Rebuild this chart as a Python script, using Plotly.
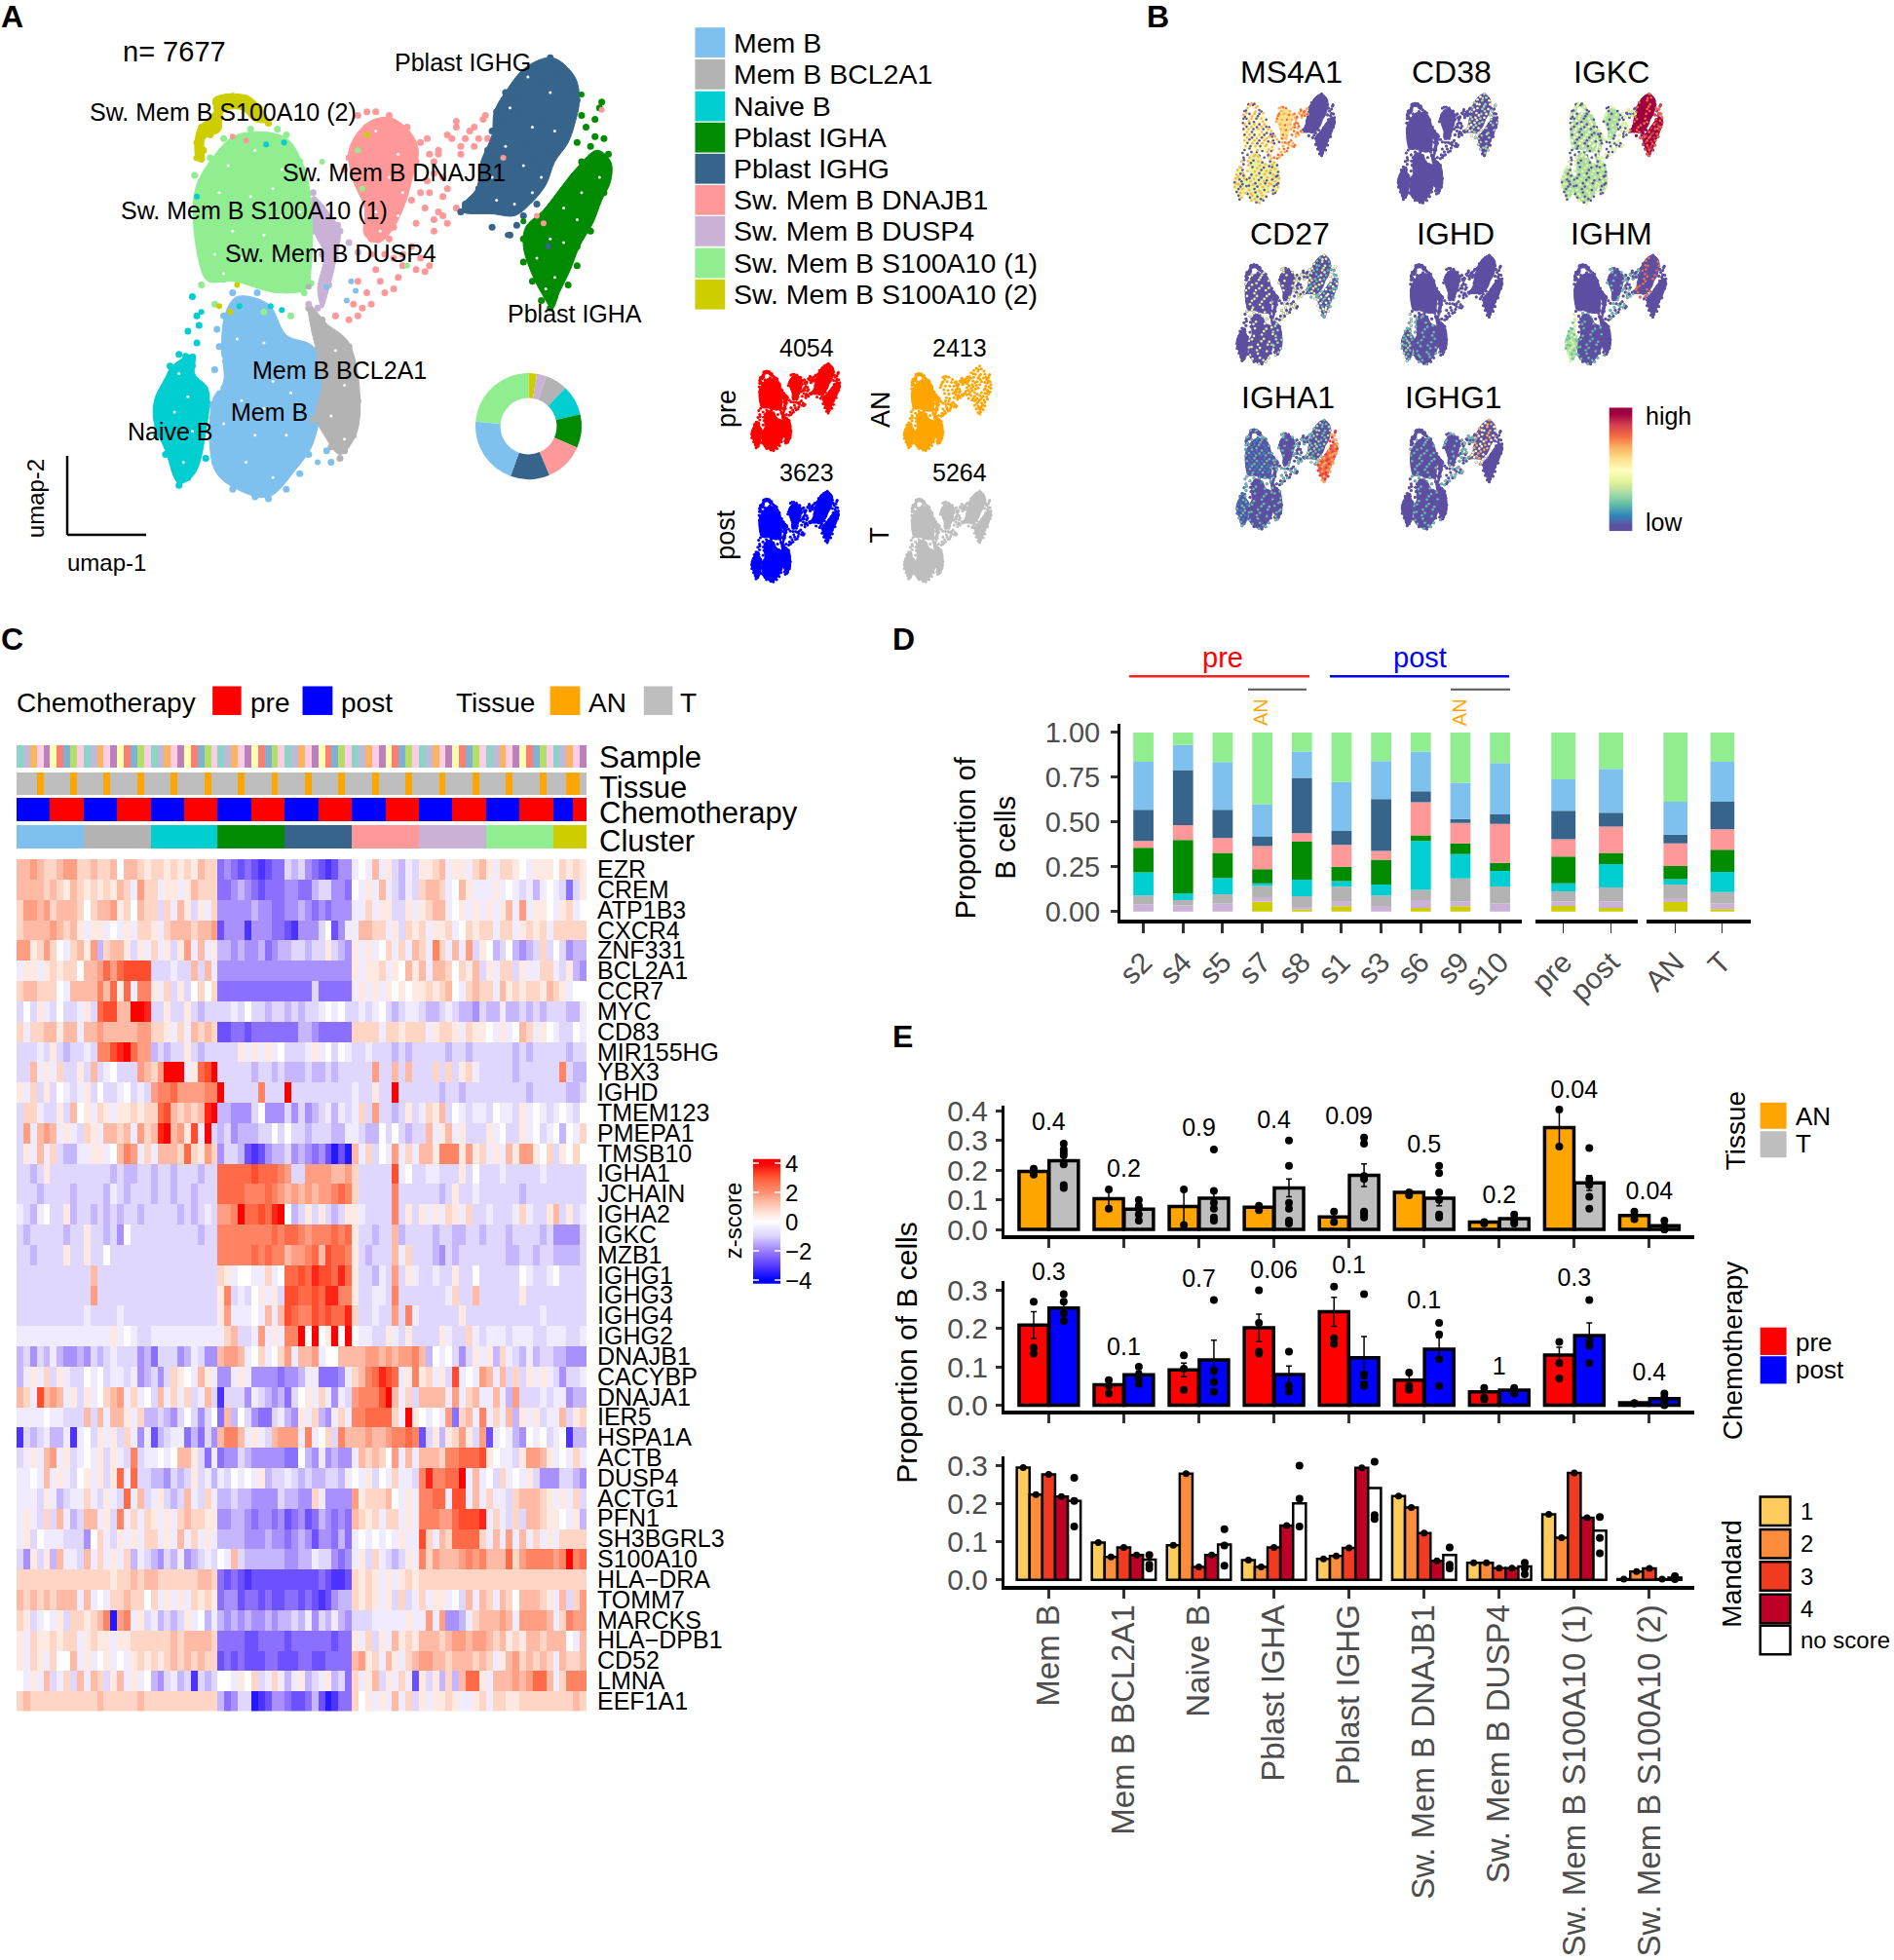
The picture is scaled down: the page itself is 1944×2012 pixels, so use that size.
import plotly.graph_objects as go

W, H = 1944, 2012
V = W / 1515
FONT = "Liberation Sans"
GRAY = "#4D4D4D"

# ---------------------------------------------------------------- clusters
clusters = ["Mem B", "Mem B BCL2A1", "Naive B", "Pblast IGHA", "Pblast IGHG", "Sw. Mem B DNAJB1",
            "Sw. Mem B DUSP4", "Sw. Mem B S100A10 (1)", "Sw. Mem B S100A10 (2)"]
cluster_colors = ["#7EC0EE", "#B3B3B3", "#00CED1", "#008B00", "#36648B", "#FF9999", "#CAB2D6", "#90EE90", "#CDCD00"]

# UMAP outlines and points
out_memb = [(5.3,7.7),(6.0,7.9),(6.4,8.7),(7.0,9.0),(7.2,10.0),(7.0,11.5),(6.6,12.2),(6.0,12.9),(5.3,12.7),(4.8,12.2),(4.75,10.4),(5.0,9.9),(4.95,9.0),(5.05,8.1)]
out_gray = [(6.9,7.9),(7.3,8.4),(7.8,8.9),(8.05,10.4),(7.95,11.3),(7.6,11.8),(7.25,11.3),(7.05,10.8),(7.2,10.0),(7.05,9.0),(6.95,8.5)]
out_naive = [(3.85,9.5),(4.35,9.2),(4.35,9.7),(4.65,10.1),(4.6,11.2),(4.35,12.3),(4.0,12.55),(3.7,11.7),(3.45,11.0),(3.45,10.4),(3.7,9.8)]
out_igha = [(13.35,3.9),(13.65,4.2),(13.65,4.7),(13.45,5.2),(13.25,5.8),(12.95,6.4),(12.75,7.0),(12.5,7.6),(12.35,8.0),(12.1,7.6),(11.85,7.0),(11.7,6.4),(11.75,5.9),(12.15,5.45),(12.55,4.85),(12.9,4.35)]
out_ighg = [(12.35,1.5),(12.85,2.0),(12.95,2.6),(12.85,3.2),(12.7,3.7),(12.4,4.2),(12.2,4.8),(11.85,5.3),(11.5,5.6),(11.0,5.55),(10.8,5.55),(10.35,5.5),(10.35,5.3),(10.65,4.9),(10.75,4.2),(11.0,3.5),(11.05,2.9),(11.35,2.3),(11.75,1.75)]
out_pink = [(8.7,3.05),(9.15,3.4),(9.35,3.9),(9.2,4.7),(9.05,5.3),(8.75,6.0),(8.45,6.3),(8.15,6.1),(8.15,5.4),(7.9,4.7),(7.8,3.9),(8.2,3.2)]
out_dusp = [(7.0,5.1),(7.4,5.6),(7.6,6.0),(7.5,6.8),(7.35,7.5),(7.2,8.0),(7.1,7.5),(7.25,6.6),(7.05,6.1),(6.95,5.6)]
out_s1 = [(5.3,3.5),(6.35,3.55),(6.75,4.2),(6.95,5.2),(6.95,7.0),(6.85,7.5),(6.2,7.6),(5.2,7.3),(4.65,7.3),(4.45,6.8),(4.35,5.0),(4.75,4.1)]
out_s2 = [(4.4,4.15),(4.42,3.35),(4.78,2.95),(4.78,2.55),(5.55,2.5),(6.0,3.15),(5.7,3.15),(5.4,2.85),(5.0,2.9),(4.92,3.4),(4.58,3.6),(4.55,4.2)]
outlines = [out_memb, out_gray, out_naive, out_igha, out_ighg, out_pink, out_dusp, out_s1, out_s2]

pts_memb = [(5.2,7.6),(5.6,7.9),(6.0,8.0),(5.0,8.2),(5.4,8.5),(5.9,8.6),(6.3,8.7),(6.6,8.9),(7.0,9.1),(4.9,9.0),(5.3,9.2),(5.8,9.3),(6.2,9.5),(6.7,9.6),(7.1,9.8),(4.8,9.6),(5.2,10.0),(5.7,10.1),(6.2,10.3),(6.8,10.3),(4.7,10.5),(5.1,10.7),(5.6,10.9),(6.1,11.0),(6.6,10.9),(6.9,11.2),(4.7,11.2),(5.0,11.6),(5.5,11.5),(6.0,11.7),(6.5,11.6),(6.9,11.8),(4.8,12.0),(5.3,12.2),(5.8,12.3),(6.3,12.2),(6.7,12.3),(5.2,12.7),(5.7,12.9),(6.0,12.95),(6.4,12.7),(7.3,11.7),(7.4,12.0),
            (5.45,8.05),(5.15,8.75),(6.05,9.05),(6.45,9.25),(5.55,9.65),(6.0,9.85),(6.55,9.95),(5.0,10.35),(5.45,10.45),(5.95,10.55),(6.45,10.65),(4.95,11.15),(5.35,11.05),(5.8,11.25),(6.35,11.3),(6.75,10.6),(5.15,12.0),(5.6,11.85),(6.2,11.9),(5.05,12.4),(5.55,12.55),(6.15,12.55),(4.85,8.55),(5.75,7.6)]
pts_gray = [(6.9,8.0),(7.2,8.3),(7.1,8.6),(7.5,8.7),(7.8,9.0),(7.6,9.4),(7.9,9.7),(7.4,10.0),(7.7,10.2),(8.0,10.4),(7.3,10.5),(7.6,10.7),(7.9,10.9),(7.2,11.0),(7.5,11.2),(7.9,11.3),(7.4,11.6),(7.7,11.7),(7.6,11.9),(7.0,10.9),(7.3,9.2),(7.15,9.55),(7.85,10.1),(7.45,10.35),(7.75,11.05),(7.35,8.95)]
pts_naive = [(4.4,8.2),(4.2,8.6),(4.4,8.9),(4.0,9.2),(4.3,9.5),(3.8,9.5),(4.1,9.9),(3.7,10.0),(4.4,10.1),(3.6,10.4),(4.0,10.5),(4.5,10.4),(3.5,10.8),(3.9,11.0),(4.3,11.0),(3.5,11.3),(3.9,11.5),(4.3,11.5),(3.7,11.8),(4.1,11.9),(3.9,12.2),(4.2,12.4),(4.0,12.6),(4.6,11.9),(4.3,7.7),(3.85,10.25),(4.2,10.7),(3.65,10.95),(4.1,11.25),(4.35,9.85),(4.45,8.45),(4.15,9.25)]
pts_igha = [(13.4,2.8),(13.3,3.1),(13.1,3.3),(13.5,3.6),(13.2,3.8),(13.6,4.0),(13.0,4.2),(13.4,4.3),(13.6,4.5),(12.8,4.7),(13.2,4.8),(13.5,5.0),(12.5,5.1),(12.9,5.2),(13.3,5.3),(12.3,5.5),(12.7,5.6),(13.1,5.7),(12.0,5.9),(12.4,6.0),(12.8,6.1),(13.2,6.0),(11.7,6.2),(12.1,6.4),(12.5,6.5),(12.9,6.4),(11.7,6.8),(12.1,6.9),(12.5,7.0),(12.9,6.9),(11.9,7.3),(12.3,7.4),(12.7,7.4),(12.1,7.8),(12.4,7.7),(12.3,8.0),(13.45,2.65),(13.0,3.0),(12.9,3.7),(13.3,3.55),(12.95,4.55),(13.15,5.15),(12.55,5.75),(12.25,6.15),(11.95,6.55),(12.65,6.75),(12.2,7.15),(11.85,6.0),(12.45,7.25),(13.35,4.95)]
pts_ighg = [(12.3,1.5),(11.9,1.8),(12.5,1.9),(11.6,2.1),(12.1,2.2),(12.8,2.2),(11.3,2.4),(11.8,2.6),(12.4,2.6),(12.9,2.6),(11.1,2.9),(11.6,3.0),(12.1,3.1),(12.7,3.1),(11.0,3.4),(11.5,3.5),(12.0,3.6),(12.5,3.6),(10.9,3.9),(11.4,4.0),(11.9,4.1),(12.3,4.0),(10.8,4.4),(11.3,4.5),(11.8,4.6),(10.7,4.9),(11.2,5.0),(11.7,5.1),(10.4,5.3),(10.8,5.4),(11.3,5.5),(11.7,5.6),(10.3,5.5),(11.0,5.9),(11.4,6.1),(12.0,5.3),(12.15,1.95),(11.55,2.55),(12.25,2.85),(11.25,3.15),(12.35,3.3),(11.75,3.75),(11.05,4.15),(11.55,4.25),(12.1,4.45),(10.95,4.75),(11.45,4.8),(10.6,5.15),(11.05,5.3),(11.55,5.85)]
pts_pink = [(8.2,2.9),(8.7,3.0),(9.1,3.3),(8.0,3.6),(8.5,3.6),(9.0,3.7),(9.4,3.7),(7.8,4.1),(8.3,4.2),(8.8,4.2),(9.3,4.2),(9.8,4.0),(8.1,4.7),(8.6,4.8),(9.1,4.7),(9.7,4.5),(10.1,3.6),(10.5,3.4),(10.8,3.1),(10.9,3.6),(10.3,4.0),(10.6,3.8),(8.2,5.2),(8.7,5.3),(9.2,5.2),(9.6,5.0),(9.8,5.5),(8.4,5.8),(8.8,5.9),(9.3,5.8),(9.7,5.7),(8.3,6.2),(8.7,6.2),(9.6,6.9),(9.3,7.0),(8.5,7.3),(8.2,7.6),(7.9,7.9),(8.0,8.2),(7.5,8.2),(8.8,6.7),(9.0,6.6),(9.9,5.1),(10.2,5.4),
            (10.0,3.5),(10.2,3.3),(10.4,3.6),(10.6,3.3),(10.7,3.6),(10.3,3.8),(9.7,4.2),(9.9,4.6),(9.6,4.0),(9.9,5.6),(10.0,5.8),(9.5,5.4),(9.7,6.0),(9.2,6.4),(9.0,6.9),(8.9,7.2),(8.6,7.6),(8.3,7.9),(8.1,8.0),(9.5,7.05),(9.4,6.7),(8.8,7.5),(8.4,7.0),(8.6,6.6),(8.0,7.3),(7.8,8.3),(8.3,6.6),(9.8,3.9),(8.0,3.0),(8.4,2.9),(8.2,3.3),(7.9,3.8),(7.7,4.4),(10.0,4.9),(10.3,5.5),(9.55,4.7),(9.4,5.0),(10.2,3.15),(10.85,3.0),(9.55,3.6)]
pts_dusp = [(7.0,5.0),(7.2,5.4),(7.4,5.7),(7.0,6.0),(7.3,6.0),(7.6,6.0),(7.4,6.4),(7.2,6.6),(7.5,6.7),(7.3,7.1),(7.2,7.5),(7.1,8.0),(6.9,7.9),(7.8,6.3),(8.0,6.55),(7.55,5.85),(7.15,5.75),(7.35,7.4)]
pts_s1 = [(5.0,3.6),(5.5,3.6),(6.0,3.6),(6.4,3.5),(4.7,4.1),(5.2,4.1),(5.7,4.1),(6.2,4.1),(6.7,4.2),(4.5,4.7),(5.0,4.6),(5.5,4.7),(6.0,4.7),(6.5,4.7),(4.4,5.2),(4.9,5.2),(5.4,5.2),(5.9,5.2),(6.4,5.2),(6.9,5.2),(4.5,5.8),(5.0,5.8),(5.5,5.8),(6.0,5.8),(6.5,5.8),(4.5,6.4),(5.0,6.3),(5.5,6.4),(6.0,6.4),(6.5,6.4),(6.9,6.5),(4.6,7.0),(5.1,7.0),(5.6,7.0),(6.1,7.0),(6.6,7.0),(4.5,7.4),(5.8,7.4),(6.3,7.5),(6.8,7.6),(4.8,7.9),(5.9,8.1),(6.5,8.2),
          (5.25,3.85),(5.85,3.85),(4.95,4.35),(5.45,4.45),(6.35,4.4),(4.7,4.95),(5.2,4.95),(5.75,5.0),(6.2,4.95),(6.7,4.95),(4.75,5.5),(5.25,5.5),(6.25,5.5),(6.75,5.6),(4.75,6.1),(5.25,6.1),(5.75,6.15),(6.25,6.1),(6.7,6.2),(4.8,6.65),(5.3,6.7),(5.8,6.7),(6.3,6.7),(5.0,7.25),(6.75,6.85),(6.2,3.35),(5.6,3.35),(4.35,4.55),(6.95,7.35)]
pts_s2 = [(4.4,4.1),(4.4,3.7),(4.5,3.3),(4.8,3.0),(4.9,2.6),(5.2,2.5),(5.5,2.55),(5.8,2.8),(6.0,3.2),(4.7,3.5),(4.55,3.9),(5.05,2.7),(5.35,2.65),(5.65,2.95),(4.65,3.25)]
points = [pts_memb, pts_gray, pts_naive, pts_igha, pts_ighg, pts_pink, pts_dusp, pts_s1, pts_s2]

# cells of other clusters lying among each cloud: (x, y, cluster)
stray_cells = [(7.85,7.3,0),(7.95,7.55,0),(7.3,7.45,0),(7.1,12.0,0),(7.75,7.8,0),(8.1,4.9,7),(7.2,4.2,7),(8.0,3.9,7),(8.2,3.5,8),(6.35,3.7,2),(5.95,3.75,2),
               (6.05,7.95,2),(5.35,7.95,2),(4.5,8.1,2),(6.3,8.05,2),(5.2,3.55,5),(5.5,3.65,5),(9.1,6.9,7),(5.3,7.4,8),(5.15,8.1,8),(4.9,7.95,8),(13.45,2.85,5),(12.15,5.8,5),
               (11.25,4.1,5),(6.9,7.45,1),(5.7,2.9,8),(4.4,5.1,2),(11.7,5.75,3),(13.0,2.45,3),(12.25,6.4,4),(11.35,6.1,4),(12.0,5.6,5)]
# little holes of the point clouds
gaps = [(5.1,4.3),(5.7,3.9),(6.3,4.4),(4.9,5.0),(5.6,5.1),(6.1,4.9),(4.7,5.6),(5.2,6.0),(5.9,6.1),(6.3,5.6),(4.8,6.6),(5.4,6.7),(6.2,6.7),(6.7,5.5),(5.0,7.1),
        (5.3,8.8),(5.9,8.9),(6.1,9.9),(5.4,10.4),(5.9,10.6),(6.5,10.2),(5.0,11.0),(5.7,11.3),(6.4,11.3),(5.5,12.0),(6.1,12.4),(4.9,10.1),(4.95,9.3),
        (4.0,9.7),(4.2,10.3),(3.9,10.7),(4.3,11.2),(3.8,11.4),(4.1,12.0),(7.5,9.1),(7.7,10.0),(7.4,10.8),(7.7,11.4),
        (11.8,2.0),(12.3,2.4),(11.4,2.8),(11.9,3.3),(12.4,3.4),(11.3,3.8),(11.7,4.3),(12.1,4.6),(11.0,4.6),(11.5,5.3),(11.9,5.0),(11.1,5.2),
        (13.4,4.6),(13.0,5.0),(12.6,5.4),(12.3,6.2),(12.9,5.7),(12.6,6.3),(12.0,6.7),(12.4,7.2),(12.2,7.5),
        (8.4,3.4),(8.9,4.0),(8.2,4.4),(8.7,4.6),(9.0,5.0),(8.4,5.5),(8.9,5.6),(8.5,6.0)]

donut_values = [2.5, 3.0, 6.7, 9.2, 10.2, 12.0, 11.9, 20.9, 23.6]
donut_order = [8, 6, 1, 2, 3, 5, 4, 0, 7]

condition_panels = [("pre", "4054", "#FF0000"), ("AN", "2413", "#FFA500"), ("post", "3623", "#0000FF"), ("T", "5264", "#BEBEBE")]

# ---------------------------------------------------------------- panel B
spectral = ["#5E4FA2", "#3288BD", "#66C2A5", "#ABDDA4", "#E6F598", "#FFFFBF", "#FEE08B", "#FDAE61", "#F46D43", "#D53E4F", "#9E0142"]
genes_b = ["MS4A1", "CD38", "IGKC", "CD27", "IGHD", "IGHM", "IGHA1", "IGHG1"]
gene_fill = {
    "MS4A1": [4,4,4,0,0,6,5,5,5], "CD38": [0,0,0,0,0,0,0,0,0], "IGKC": [3,3,3,10,10,3,3,3,3],
    "CD27": [0,0,0,0,0,0,0,0,0], "IGHD": [0,0,0,0,0,0,0,0,0], "IGHM": [0,0,3,0,0,0,0,0,0],
    "IGHA1": [0,0,0,8,0,0,0,0,0], "IGHG1": [0,0,0,0,0,0,0,0,0]}
gene_speck_a = {
    "MS4A1": [0,0,0,0,0,7,0,0,0], "CD38": [0,0,0,3,3,0,0,0,0], "IGKC": [0,0,0,9,8,0,0,0,0],
    "CD27": [4,0,0,5,4,4,0,4,0], "IGHD": [0,0,3,0,0,0,0,0,0], "IGHM": [2,0,4,0,0,2,0,0,0],
    "IGHA1": [2,2,2,9,2,2,2,2,2], "IGHG1": [2,0,0,0,7,0,0,2,0]}
gene_speck_b = {
    "MS4A1": [7,7,7,0,0,8,7,7,7], "CD38": [0,0,0,0,5,0,0,0,0], "IGKC": [4,4,4,8,10,4,4,5,4],
    "CD27": [0,3,0,2,2,0,0,0,0], "IGHD": [2,0,2,0,0,0,0,0,0], "IGHM": [0,0,2,0,8,0,0,0,0],
    "IGHA1": [0,0,1,7,3,0,0,1,0], "IGHG1": [0,0,0,0,5,2,0,0,0]}
spectral_levels = [[0],[1],[2],[3],[4],[5],[6],[7],[8],[9],[10]]

# ---------------------------------------------------------------- panel C
heat_genes = ["EZR","CREM","ATP1B3","CXCR4","ZNF331","BCL2A1","CCR7","MYC","CD83","MIR155HG","YBX3","IGHD","TMEM123","PMEPA1","TMSB10",
              "IGHA1","JCHAIN","IGHA2","IGKC","MZB1","IGHG1","IGHG3","IGHG4","IGHG2","DNAJB1","CACYBP","DNAJA1","IER5","HSPA1A","ACTB",
              "DUSP4","ACTG1","PFN1","SH3BGRL3","S100A10","HLA−DRA","TOMM7","MARCKS","HLA−DPB1","CD52","LMNA","EEF1A1"]
# one character per cell: 0 = white, 1..9 = warmer, a..i = cooler (steps of 0.45 z)
heat_rows = [
"3343223442 2322303321 2212121322 edefefgfee bcbdefgfdd a0a3a1bcab 1123a11a23 1a2210a111 02121",
"3333232132 1212132a42 2a11a13222 eedcdefeee ddeecbbdde 0a1a3abcab 2332a031aa a1a0abaca0 abeb1",
"2443423332 0233412032 2b2a31b1a2 dddddcddee ddcdededdd aa2a11bb1a 1233a01a1a 1a13a4a110 a12a0",
"2333343231 a11a0a1a22 1a23332334 fdddgdddee fgdddb0fda a3322a1b21 2a112a0212 2a22a1212a 22222",
"4412420a23 14c2331b1a 2a1b14a3a1 ccdcddcedc cbbcbb1bcd 1a1a02a2a3 2a52a3a4b1 0cb0cdcb2b 0bdcc",
"a11a121220 3346467777 bbbabb3b3a dddddddddd dddddddddd 1a112a1031 3a3320213b 1a22b1aa22 ab1cd",
"2332220a33 3353616a55 1a2b1b0202 eeeeeeeeee eeeebeeeee a1a1a10101 121230a232 2a31212213 21a00",
"b0b1ab0bba 1b67733998 bb1bb1bcbb bbab0bbcbb cbcbba0a0b baba0bcbaa bccbabccdb ccaccbcbcb bbcca",
"2a2233133a 3343333344 221a2a3232 ffeefeeeee eeccdeeeee 2222a22122 2a1221a211 0a1a032a10 abb0a",
"bbbab1bcbb ab55789644 cbcbb1bcbb bbb1a1a1a0 bbba1a0b0a bbabbbcbcb bbbbcbbcbb bbbbcbcbbb bbcbb",
"bb3a1a2bb1 b3ba0bbb43 24999a1679 bbbbbcbbcb cccbccbcbb bbb4bb3b3b bb2b2b12ab bbbbcbbbbb b5bcc",
"1a2b1b0aba 1b0bba0bab 4556444455 9bbbbb5bbb 9bbbbbbbbb abb1bb9bbb bbbcbbcbbb bbbbbbcbbb bbccb",
"b22abb1b30 1a21a11212 2673232389 ccdddb0ddd bdbdcbacab a2b4bbcb1b a213b0abaa b0aab1a0ab a0ab0",
"b4a343a1ab 21a3323a42 3893417a9b cbdcccbb0b 0bbcbbbcca abcc0b0bcb b3a13a1bbb 1a0bb1a0ba 0c0a2",
"b1a3a2bcca a11a0354a2 a333262142 dbbcfgfdcc bdcdedfhfh 3a2b0a4a2a 3315551412 a1a3144102 b1020",
"bbcb1bbbbb bbbbcbccbb cbbcbbbcbb 6666676665 4bb4444334 2bbbbb7a0b baabbb1b0b bbabbbbbab bbbbb",
"bbbcbbbbcb bbbcabcbbb cbbcbbcbbb 6666555654 3434344565 2bbbbb5bbb bbbcb1bbab bbbbbcbbbb bbbbb",
"abca0bb1cb bcbcbcbbcb bbbbcbcbab 4459667689 0cb1b1bcb1 1abbbb5b1b 1a1a21a2bb abbba2abb1 3b1ba",
"bcbbbbbcbb 1bbcbd0bbb bbbbbbbcbb 5555555565 6654555656 1bbcbb3cbb bbcbbccbbc bbbcbbbbcb ddddb",
"bbcbbbb1bb 1bb0bbbbbb bbbbbbbbbb 5555565655 3445637665 1bcbbb3a2b bbcdbcbbbb bbbccbbcbb ccccb",
"bbbbbbbbbb b3bbbbbbbb bbbbbbbbbb 21a00aa2a0 6676877686 1bbcab4b1a bbabb1bb0b bbbbb0abba 0bbbb",
"bbbbbbbbbb b4bbbbbbbb bbbbbbbbbb 15bab01a1b 7766768855 1bbaab5bbb bbbba2bb3b bbbbb1bbbb bbbbb",
"bbbbbbbbbb abbbbabbbb bbbbbbbbbb 14aaa0a3a3 7655767668 2bbabb4b5a bbbbbb1bbb bbbbbbbbab bbbbb",
"aaaaaaaaaa aaaa1a0abb aaaaaaaaaa a23bba4a1a 5590901909 0aabb1ab1b bbb1abb2ab aaabaaabba aabba",
"cbdbcacddc dbcbabbbdc ebbbdcabdd 3443a02a02 4a334a0033 3344343445 3c0a0bdb1a 1c2abcacbb ccddd",
"ca1a2b1abb 0a0baabadc bdb210a31a dda1adddde ddcaaeeeda 2356876a15 12a1b7a0a4 3a3b2b1a1a bdbba",
"32a7343a1b 1a0234a2a0 b3a2a2ba3b gbbbdabcdc eb01a2adab 4555793a2b 3333a4a23a a3ac4bbbab aadcc",
"aaaa0aabbb 3b3a331a2c cbcdb0bdb0 e3c0bdeeba cd1a2cda2a 5566662a91 0a0a4e23a5 a2a3c1a1ba a3b12",
"gbcbaccaga 0b1a1b2ada fcbaaecebd 3553a1ab34 44a5a02b53 3343345565 fb1c1241b4 fa0acd0a0b a0gcc",
"ba1a34a1ba 0a1b1ab5ba a0a0331bea eddbcddddd ee0cdadcdd a323204a3a 3332556667 10aab14431 a0a2a",
"aa0a3a1ab0 1a1b16a6bb ccdbcb1bac ab0a0a1cbb abcbccbbca 0a1b0a2aab 5855669a3a 0b2a0a1bdd dbbcd",
"aaab1acbaa 2ab1ab6a3b a1bcb3ab2a ccbccddddb ccdd2adddd 4122230a1a 5566a77a3a 2aab233321 a1a2b",
"a1ab2b3acb 33a1b5a2a2 1a1a232211 ddccdedded fedfecdede 3212a22a1a 5554467778 a2ab2b3321 10a1c",
"a1b0aaabbb d02ab1a1a2 2a1a3a2a1a ccccdddcdd edcdfddece a0a0a0a1aa 72a3266662 a3a4a3a2a1 a2222",
"bd1b1c3aab 3a2a1a2cab cdbcadcbab 0a3bcccccc ddccabbded a1b2abcb1a 5243334545 3336245555 45956",
"2222222222 2222122323 3222222332 efefgfffff fffffefggf 2121a1a121 2222222222 2222222222 22222",
"323232333a 3a0a223220 2a1a1a2121 eddfeefeff eefefgfdcc 2121a1b2ba 2a11a0b3a3 2a32033321 a3b24",
"21ba0a1b22 1235h45a1b acbcb1a0ca cdcdcddcdc cbcadbcacd bbbaaaaa1a a4a4ddca23 3343a44443 a2544",
"1a2112122a 1211a11222 2223233332 eeeeffeeee feeeeeefee 1a2b1a3121 3332344344 3231213323 330a3",
"1a21a2003a 1a01a0a121 2123232322 fefefffeef ffeeffeeee 3412a31a23 4433233323 2a13423232 a3223",
"0a1a3ba2b3 a32b13a1a0 cdbacbgbcb 00a102ba2a ca1cba1cbe 2a13b1a2af 1b1c2c3661 a333434663 a2555",
"2322222222 2232222232 2222222222 cedbbhgfdd effecfhgee 201a1a3a2b 1a1121aa12 a221122222 22232",
]
N_COLS = 85
LEVEL_CHARS = "0123456789"
COOL_CHARS = "abcdefghi"
def decode(row):
    s = row.replace(" ", "").ljust(N_COLS, "0")[:N_COLS]
    return [0.45*LEVEL_CHARS.index(c) if c in LEVEL_CHARS else -0.45*(COOL_CHARS.index(c)+1) for c in s]
heat_z = [decode(r) for r in heat_rows]

z_colorscale = [[0,"#0000FF"],[.125,"#5A3CFF"],[.25,"#9B80FF"],[.375,"#DDD3FF"],[.5,"#FFFFFF"],[.625,"#FFD0C0"],[.75,"#FF9273"],[.875,"#FF5A35"],[1,"#FF0000"]]
zbar_levels = [-4,-3.5,-3,-2.5,-2,-1.5,-1,-.5,0,.5,1,1.5,2,2.5,3,3.5,4]

sample_colors = ["#8DD3C7","#BEBADA","#FDB462","#FCCDE5","#BC80BD","#FFFFB3","#FB8072","#80B1D3","#B3DE69","#FCCDE5"]
track_sample = (list(range(10))*9)[:85]
track_tissue = [1,1,1,0,1]*16 + [1,1,0,0,1]
track_chemo = ([1]*5+[0]*5)*8 + [1,1,1,0,0]
track_cluster = sum([[i]*10 for i in range(8)], []) + [8]*5

# ---------------------------------------------------------------- panel D
stack_names = ["s2","s4","s5","s7","s8","s1","s3","s6","s9","s10"]
stack_facet2 = ["pre","post"]
stack_facet3 = ["AN","T"]
stack_order = [8, 6, 1, 2, 3, 5, 4, 0, 7]
# cumulative tops of the segments, from the bottom upward, one list per bar
stack_tops = {
    "s2":  [0,.04,.089,.218,.356,.394,.568,.836,1],
    "s4":  [0,.034,.064,.10,.40,.483,.79,.93,1],
    "s5":  [0,.045,.096,.187,.328,.41,.568,.835,1],
    "s7":  [.056,.08,.143,.158,.236,.365,.42,.60,1],
    "s8":  [.012,.025,.085,.178,.39,.437,.746,.893,1],
    "s1":  [.029,.054,.138,.169,.25,.372,.45,.724,1],
    "s3":  [0,.031,.089,.15,.29,.338,.628,.84,1],
    "s6":  [.02,.064,.12,.394,.426,.61,.672,.893,1],
    "s9":  [.03,.056,.185,.32,.38,.495,.517,.72,1],
    "s10": [0,.045,.14,.227,.272,.49,.543,.83,1],
    "pre": [.031,.056,.113,.158,.307,.403,.563,.738,1],
    "post":[.02,.056,.134,.265,.327,.474,.552,.797,1],
    "AN":  [.053,.074,.151,.18,.254,.381,.43,.613,1],
    "T":   [.013,.045,.109,.221,.345,.459,.613,.837,1]}
d_ticks = [0,.25,.5,.75,1]
d_ticktext = ["0.00","0.25","0.50","0.75","1.00"]

# ---------------------------------------------------------------- panel E
tissue_means = {"AN":[.196,.104,.077,.075,.042,.125,.025,.344,.047], "T":[.232,.068,.105,.14,.183,.105,.036,.157,.012]}
tissue_err = {"AN":[.01,.035,.06,.006,.016,.006,.003,.06,.012], "T":[.016,.01,.03,.03,.038,.025,.005,.025,.006]}
tissue_dots = {
 "AN":[[.205,.185],[.135,.07],[.135,.015],[.08,.065],[.06,.025],[.125,.115],[.02,.025],[.405,.28],[.06,.035]],
 "T":[[.29,.27,.26,.25,.22,.15,.14],[.1,.08,.07,.05,.03],[.27,.13,.09,.07,.04,.03],[.30,.215,.09,.07,.03,.02],[.31,.29,.18,.17,.06,.05,.04],[.215,.19,.125,.1,.05,.04],[.05,.03,.02],[.275,.17,.15,.11,.07],[.03,.01,0,0]]}
tissue_p = ["0.4","0.2","0.9","0.4","0.09","0.5","0.2","0.04","0.04"]
tissue_p_y = [.356,.197,.338,.364,.377,.279,.109,.464,.122]

chemo_means = {"pre":[.209,.053,.092,.202,.244,.065,.035,.131,.006], "post":[.254,.079,.118,.08,.124,.146,.039,.182,.017]}
chemo_err = {"pre":[.035,.01,.018,.036,.038,.02,.012,.02,.002], "post":[.02,.01,.052,.022,.055,.031,.006,.033,.006]}
chemo_dots = {
 "pre":[[.27,.15,.135],[.065,.05,.03],[.13,.095,.04],[.30,.215,.14,.135],[.31,.175,.16],[.085,.05,.04],[.045,.02,.015],[.165,.11,.07],[.005,.005]],
 "post":[[.29,.27,.24,.22],[.1,.08,.07,.055],[.275,.09,.06,.035],[.14,.05,.035],[.29,.08,.055,.05],[.215,.185,.12,.05],[.045,.04,.03],[.275,.17,.155,.11],[.03,.02,.01,0]]}
chemo_p = ["0.3","0.1","0.7","0.06","0.1","0.1","1","0.3","0.4"]
chemo_p_y = [.342,.147,.325,.348,.361,.268,.097,.327,.081]

mandard_means = {
 "1":[.295,.098,.091,.052,.055,.22,.045,.172,.002],
 "2":[.224,.06,.279,.034,.063,.19,.045,.111,.022],
 "3":[.277,.085,.034,.085,.084,.123,.031,.281,.03],
 "4":[.219,.065,.065,.143,.294,.05,.031,.163,.002],
 "no score":[.207,.053,.093,.201,.241,.065,.035,.129,.006]}
noscore_dots = [[.268,.207,.14],[.065,.04,.03],[.133,.09,.037],[.30,.213,.14],[.31,.17,.16],[.085,.04,.03],[.045,.03,.015],[.165,.11,.07],[.01,.006,.002]]
mandard_colors = ["#FECC5C","#FD8D3C","#F03B20","#BD0026","#FFFFFF"]

# ================================================================ helpers
fig = go.Figure()
layout = {}
annotations, shapes = [], []

def t(vx, vy, text, size=24, color="black", anchor="left", angle=0, bold=False):
    annotations.append(dict(xref="paper", yref="paper", x=vx*V/W, y=1-vy*V/H, text=f"<b>{text}</b>" if bold else text,
                            showarrow=False, xanchor=anchor, yanchor="middle", textangle=angle,
                            font=dict(family=FONT, size=size, color=color), borderpad=0, borderwidth=0))

def rect(vx0, vy0, vx1, vy1, color, line=None, lw=0):
    shapes.append(dict(type="rect", xref="paper", yref="paper", x0=vx0*V/W, x1=vx1*V/W, y0=1-vy0*V/H, y1=1-vy1*V/H,
                       fillcolor=color, line=dict(color=line or color, width=lw)))

def seg(x0, y0, x1, y1, color="black", lw=3):
    """full-size pixel coordinates"""
    shapes.append(dict(type="line", xref="paper", yref="paper", x0=x0/W, x1=x1/W, y0=1-y0/H, y1=1-y1/H, line=dict(color=color, width=lw)))

axis_n = [0]
def axes(x0, x1, y0, y1, xopts=None, yopts=None):
    """full-size pixel domain, returns trace references"""
    axis_n[0] += 1
    n = axis_n[0]
    xa = dict(domain=[x0/W, x1/W], anchor=f"y{n}", visible=False, zeroline=False, showgrid=False, automargin=False)
    ya = dict(domain=[1-y1/H, 1-y0/H], anchor=f"x{n}", visible=False, zeroline=False, showgrid=False, automargin=False)
    xa.update(xopts or {}); ya.update(yopts or {})
    layout[f"xaxis{n}"] = xa
    layout[f"yaxis{n}"] = ya
    return dict(xaxis=f"x{n}", yaxis=f"y{n}")

def xs(p): return [q[0] for q in p]
def ys(p): return [q[1] for q in p]

def hull(ref, pts, color):
    closed = pts + [pts[0]]
    fig.add_trace(go.Scatter(x=xs(closed), y=ys(closed), mode="lines", fill="toself", fillcolor=color,
                             line=dict(color=color, width=1, shape="spline", smoothing=1), hoverinfo="skip", **ref))

def dots(ref, pts, color, size):
    fig.add_trace(go.Scatter(x=xs(pts), y=ys(pts), mode="markers", marker=dict(color=color, size=size, line=dict(width=0)),
                             hoverinfo="skip", cliponaxis=False, **ref))

# ================================================================ panel A
ref = axes(0, 720, 0, 620, dict(range=[0, 15.68]), dict(range=[15.68, 0]))
for i in [0, 1, 2, 5, 6, 7, 8, 4, 3]:
    hull(ref, outlines[i], cluster_colors[i])
    dots(ref, points[i], cluster_colors[i], 7)
dots(ref, gaps, "white", 3)
for x_, y_, c_ in stray_cells:
    dots(ref, [(x_, y_)], cluster_colors[c_], 6)

t(98, 41, "n= 7677", 29)
t(316, 50, "Pblast IGHG", 25)
t(72, 90, "Sw. Mem B S100A10 (2)", 25)
t(226, 138, "Sw. Mem B DNAJB1", 25)
t(97, 168, "Sw. Mem B S100A10 (1)", 25)
t(180, 203, "Sw. Mem B DUSP4", 25)
t(406, 251, "Pblast IGHA", 25)
t(202, 296, "Mem B BCL2A1", 25)
t(185, 330, "Mem B", 25)
t(102, 345, "Naive B", 25)

seg(69, 468, 69, 549, lw=2.5)
seg(69, 549, 150, 549, lw=2.5)
t(29, 399, "umap-2", 24, anchor="center", angle=-90)
t(85, 450, "umap-1", 24, anchor="center")

fig.add_trace(go.Pie(values=donut_values, marker=dict(colors=[cluster_colors[i] for i in donut_order], line=dict(width=0)),
                     sort=False, direction="clockwise", rotation=0, hole=.53, textinfo="none", hoverinfo="skip",
                     domain=dict(x=[488/W, 597/W], y=[1-492/H, 1-383/H]), showlegend=False))

for i, (name, col) in enumerate(zip(clusters, cluster_colors)):
    cy = [34, 59.5, 85, 110, 135, 160, 185, 210.5, 235.5][i]
    rect(556, cy-12, 580, cy+12, col)
    t(587, cy, name, 28.5)

# mini condition maps
mini_x = [3.3, 13.8]
mini_y = [13.05, 1.35]
cond_boxes = [(600, 673, 290, 361), (722, 794, 292, 361), (600, 672, 392, 466), (722, 794, 392, 466)]
cond_label = [(581, 327, 645, 278), (704, 327, 768, 278), (581, 428, 645, 378), (704, 428, 768, 378)]
for (name, num, col), b, l in zip(condition_panels, cond_boxes, cond_label):
    ref = axes(b[0]*V, b[1]*V, b[2]*V, b[3]*V, dict(range=mini_x), dict(range=mini_y))
    for i in range(9):
        if name != "AN" or i not in (3, 4, 5):
            hull(ref, outlines[i], col)
        dots(ref, points[i], col, 3)
    t(l[0], l[1], name, 27, anchor="center", angle=-90)
    t(l[2], l[3], num, 25, anchor="center")

# ================================================================ panel B
gene_boxes = [(986,1069,74,163),(1117,1199,74,163),(1248,1331,74,163),
              (988,1071,203,292),(1120,1203,203,292),(1251,1334,203,292),
              (988,1071,335,424),(1120,1203,335,424)]
gene_title = [(1033,58),(1161,58),(1289,58),(1032,187),(1164,187),(1289,187),(1030,318),(1163,318)]
for g, b, lab in zip(genes_b, gene_boxes, gene_title):
    ref = axes(b[0]*V, b[1]*V, b[2]*V, b[3]*V, dict(range=mini_x), dict(range=mini_y))
    for i in range(9):
        hull(ref, outlines[i], spectral[gene_fill[g][i]])
    for i in range(9):
        dots(ref, points[i], spectral[gene_fill[g][i]], 3)
        dots(ref, points[i][0::2], spectral[gene_speck_a[g][i]], 2.6)
        dots(ref, points[i][1::2], spectral[gene_speck_b[g][i]], 2.6)
    t(lab[0], lab[1], g, 32, anchor="center")

ref = axes(1287*V, 1306*V, 326*V, 425*V, dict(range=[-.5, .5]), dict(range=[-.5, 10.5]))
fig.add_trace(go.Heatmap(z=spectral_levels, x=[0], y=list(range(11)), colorscale=[[i/10, c] for i, c in enumerate(spectral)],
                         showscale=False, zsmooth="best", hoverinfo="skip", **ref))
t(1316, 333, "high", 25)
t(1316, 418, "low", 25)

# ================================================================ panel C
t(13, 562, "Chemotherapy", 28)
rect(170, 549, 193, 572, "#FF0000"); t(200, 562, "pre", 28)
rect(242, 549, 266, 572, "#0000FF"); t(273, 562, "post", 28)
t(365, 562, "Tissue", 28)
rect(440, 549, 464, 572, "#FFA500"); t(471, 562, "AN", 28)
rect(515, 549, 538, 572, "#BEBEBE"); t(544, 562, "T", 28)

def stepped(colors):
    n = len(colors); out = []
    for i, c in enumerate(colors):
        out += [[i/n, c], [(i+1)/n, c]]
    return out

tracks = [(track_sample, sample_colors, 765, 788, "Sample", 606), (track_tissue, ["#FFA500", "#BEBEBE"], 793, 816, "Tissue", 630),
          (track_chemo, ["#FF0000", "#0000FF"], 819, 843, "Chemotherapy", 650), (track_cluster, cluster_colors, 847, 871, "Cluster", 673)]
for vals, cols, y0, y1, name, ly in tracks:
    ref = axes(17, 602, y0, y1)
    fig.add_trace(go.Heatmap(z=[vals], colorscale=stepped(cols), zmin=-.5, zmax=len(cols)-.5, showscale=False, hoverinfo="skip", **ref))
    t(479, ly, name, 31)

ref = axes(17, 602, 882, 1756.5, dict(range=[-.5, 84.5]),
           dict(visible=True, range=[41.5, -.5], side="right", tickmode="array", tickvals=list(range(42)), ticktext=heat_genes,
                showline=False, ticks="", tickfont=dict(family=FONT, size=25, color="black"), ticklabelstandoff=10))
fig.add_trace(go.Heatmap(z=heat_z, colorscale=z_colorscale, zmin=-4, zmax=4, showscale=False, hoverinfo="skip", **ref))

ref = axes(773, 801, 1189, 1318, dict(range=[-.5, .5]), dict(range=[-4.3, 4.3]))
fig.add_trace(go.Heatmap(z=[[v] for v in zbar_levels], x=[0], y=zbar_levels, colorscale=z_colorscale, zmin=-4, zmax=4, zsmooth="best",
                         showscale=False, hoverinfo="skip", **ref))
for lab, py in zip(["4", "2", "0", "−2", "−4"], [1194, 1224, 1254, 1284, 1314]):
    t(628, py/V, lab, 24)
    seg(773, py, 779, py, "white", 1.5)
    seg(795, py, 801, py, "white", 1.5)
t(586, 976, "z-score", 24, anchor="center", angle=-90)

# ================================================================ panel D
D_Y = dict(range=[-.047, 1.047])
D_TOP, D_BOT = 743.3, 944.3
def stacked(ref, names, width):
    for seg_i, cl in enumerate(stack_order):
        base = [stack_tops[n][seg_i-1] if seg_i else 0 for n in names]
        h = [stack_tops[n][seg_i]-b for n, b in zip(names, base)]
        fig.add_trace(go.Bar(x=list(range(len(names))), y=h, base=base, width=width, marker=dict(color=cluster_colors[cl], line=dict(width=0)),
                             hoverinfo="skip", **ref))

def x_opts(rng, names, tw):
    return dict(visible=True, range=rng, tickmode="array", tickvals=list(range(len(names))), ticktext=names, tickangle=-45,
                showline=True, linecolor="black", linewidth=4, ticks="outside", ticklen=10, tickwidth=tw, tickcolor="#333333",
                tickfont=dict(family=FONT, size=30, color=GRAY))

ref = axes(1150, 1562, D_TOP, D_BOT, x_opts([-.58, 9.55], stack_names, 3),
           dict(visible=True, tickmode="array", tickvals=d_ticks, ticktext=d_ticktext, showline=True, linecolor="black", linewidth=3,
                ticks="outside", ticklen=7, tickwidth=3, tickcolor="#333333", tickfont=dict(family=FONT, size=29, color=GRAY), ticklabelstandoff=5, **D_Y))
stacked(ref, stack_names, .51)
ref = axes(1576, 1681, D_TOP, D_BOT, x_opts([-.588, 1.563], stack_facet2, 1), dict(**D_Y))
stacked(ref, stack_facet2, .51)
ref = axes(1690, 1797, D_TOP, D_BOT, x_opts([-.616, 1.604], stack_facet3, 1), dict(**D_Y))
stacked(ref, stack_facet3, .51)

t(772, 670, "Proportion of", 29, anchor="center", angle=-90)
t(804, 670, "B cells", 29, anchor="center", angle=-90)
t(978, 526, "pre", 29, "#FF0000", "center")
t(1136, 526, "post", 29, "#0000FF", "center")
seg(1159, 694.3, 1344, 694.3, "#FF2020", 2.5)
seg(1365, 694.3, 1549, 694.3, "#0000FF", 2.5)
seg(1281, 707.7, 1341, 707.7, "#555555", 2)
seg(1489, 707.7, 1550, 707.7, "#555555", 2)
t(1009, 570, "AN", 20, "#FFA500", "center", -90)
t(1168, 570, "AN", 20, "#FFA500", "center", -90)

# ================================================================ panel E
def e_x(labels=False):
    o = dict(visible=True, range=[-.589, 8.598], tickmode="array", tickvals=list(range(9)), showline=True, linecolor="black", linewidth=4,
             ticks="outside", ticklen=9, tickwidth=3, tickcolor="#333333")
    if labels:
        o.update(ticktext=clusters, tickangle=-90, tickfont=dict(family=FONT, size=33, color=GRAY), ticklabelstandoff=-7)
    else:
        o.update(showticklabels=False)
    return o

def e_y(rng, vals):
    return dict(visible=True, range=rng, tickmode="array", tickvals=vals, ticktext=[f"{v:.1f}" for v in vals], showline=True, linecolor="black",
                linewidth=3, ticks="outside", ticklen=6, tickwidth=3, tickcolor="#333333", tickfont=dict(family=FONT, size=30, color=GRAY), ticklabelstandoff=2)

def two_group(ref, means, errs, dot_sets, cols):
    for (k, c), off in zip(cols, [-.4, .0]):
        fig.add_trace(go.Bar(x=list(range(9)), y=means[k], offset=off+.005, width=.39, marker=dict(color=c, line=dict(color="black", width=3.5)), hoverinfo="skip", **ref))
    for (k, c), off in zip(cols, [-.2, .2]):
        cx = [i+off for i in range(9)]
        fig.add_trace(go.Scatter(x=cx, y=means[k], mode="markers", marker=dict(size=1, color="black"), hoverinfo="skip",
                                 error_y=dict(type="data", array=errs[k], arrayminus=errs[k], color="black", thickness=1.5, width=3), **ref))
        dx, dy = [], []
        for i, d in enumerate(dot_sets[k]):
            dx += [i+off]*len(d); dy += d
        fig.add_trace(go.Scatter(x=dx, y=dy, mode="markers", marker=dict(size=8, color="black"), hoverinfo="skip", cliponaxis=False, **ref))

def p_labels(y0, y1, rng, pvals, py):
    ref = axes(1031, 1739, y0, y1, dict(range=[-.589, 8.598]), dict(range=rng))
    fig.add_trace(go.Scatter(x=list(range(9)), y=py, text=pvals, mode="text", textposition="middle center",
                             textfont=dict(family=FONT, size=25, color="black"), cliponaxis=False, hoverinfo="skip", **ref))

ref = axes(1031, 1739, 1135, 1268, e_x(), e_y([-.0197, .418], [0, .1, .2, .3, .4]))
two_group(ref, tissue_means, tissue_err, tissue_dots, [("AN", "#FFA500"), ("T", "#BEBEBE")])
p_labels(1100, 1268, [-.0197, .5329], tissue_p, tissue_p_y)
ref = axes(1031, 1739, 1315, 1447.5, e_x(), e_y([-.013, .3244], [0, .1, .2, .3]))
two_group(ref, chemo_means, chemo_err, chemo_dots, [("pre", "#FF0000"), ("post", "#0000FF")])
p_labels(1290, 1447.5, [-.013, .3881], chemo_p, chemo_p_y)
ref = axes(1031, 1739, 1494.5, 1628, e_x(True), e_y([-.0159, .3256], [0, .1, .2, .3]))
offs = [-.425, -.255, -.085, .085, .255]
for (k, vals), c, off in zip(mandard_means.items(), mandard_colors, offs):
    fig.add_trace(go.Bar(x=list(range(9)), y=vals, offset=off, width=.17, marker=dict(color=c, line=dict(color="black", width=2.5)), hoverinfo="skip", **ref))
for (k, vals), off in zip(list(mandard_means.items())[:4], offs):
    fig.add_trace(go.Scatter(x=[i+off+.085 for i in range(9)], y=vals, mode="markers", marker=dict(size=7, color="black"), hoverinfo="skip", cliponaxis=False, **ref))
dx, dy = [], []
for i, d in enumerate(noscore_dots):
    dx += [i+offs[4]+.085]*len(d); dy += d
fig.add_trace(go.Scatter(x=dx, y=dy, mode="markers", marker=dict(size=8, color="black"), hoverinfo="skip", cliponaxis=False, **ref))

t(725, 1082, "Proportion of B cells", 30, anchor="center", angle=-90)
t(1388, 905, "Tissue", 28, anchor="center", angle=-90)
rect(1408, 882, 1429, 903, "#FFA500"); t(1436, 893, "AN", 26)
rect(1408, 905, 1429, 926, "#BEBEBE"); t(1436, 915, "T", 26)
t(1386, 1080, "Chemotherapy", 28, anchor="center", angle=-90)
rect(1408, 1062, 1429, 1084, "#FF0000"); t(1436, 1074, "pre", 26)
rect(1408, 1085, 1429, 1107, "#0000FF"); t(1436, 1096, "post", 26)
t(1385, 1259, "Mandard", 28, anchor="center", angle=-90)
for (k, c), cy in zip(zip(mandard_means, mandard_colors), [1209, 1235, 1261, 1287, 1312]):
    rect(1408, cy-11.5, 1432, cy+11.5, c, "black", 2.5)
    t(1440, cy, k, 24)

# panel letters
for lab, x, y in [("A", 1, 13), ("B", 917, 13), ("C", 1, 511), ("D", 714, 511), ("E", 714, 829)]:
    t(x, y, lab, 32, bold=True)

fig.update_layout(width=W, height=H, margin=dict(l=0, r=0, t=0, b=0), paper_bgcolor="white", plot_bgcolor="rgba(0,0,0,0)",
                  showlegend=False, barmode="overlay", annotations=annotations, shapes=shapes,
                  font=dict(family=FONT), **layout)
fig.write_html("out.html", include_plotlyjs=True, config=dict(displayModeBar=False), post_script="document.body.style.margin='0';")
